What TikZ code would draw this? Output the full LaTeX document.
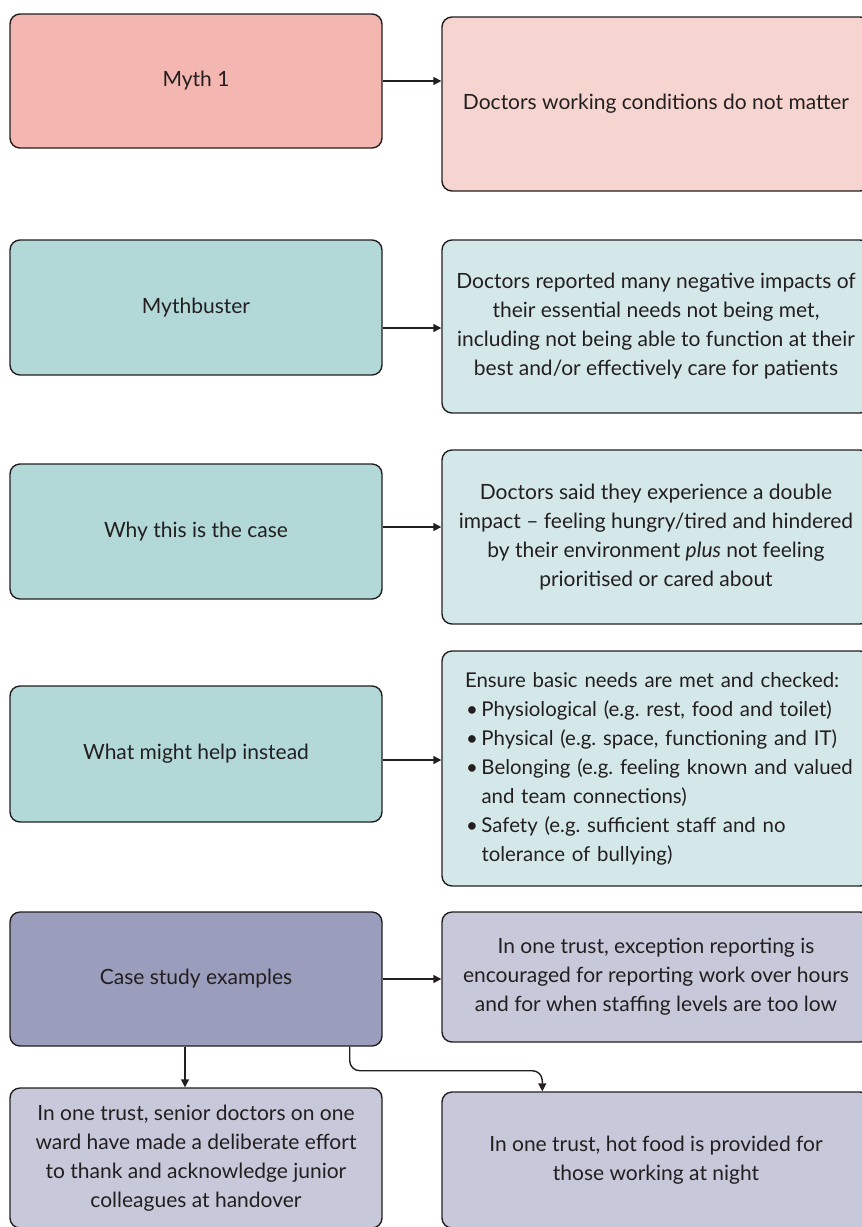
\documentclass[tikz,border=0pt]{standalone}
\usepackage{fontspec}
\setmainfont{Lato}
\usetikzlibrary{arrows.meta,calc}
\definecolor{txt}{HTML}{231F20}
\definecolor{edge}{HTML}{231F20}
\definecolor{redA}{HTML}{F4B6B1}
\definecolor{redB}{HTML}{F6D5D1}
\definecolor{tealA}{HTML}{B2D8D8}
\definecolor{tealB}{HTML}{D5E8E9}
\definecolor{purA}{HTML}{9A9DBB}
\definecolor{purB}{HTML}{C7C8DA}
\newcommand{\bul}{\makebox[15.5pt][l]{\textbullet}}
\tikzset{
  box/.style={draw=edge, line width=1.4pt, rounded corners=10pt, inner sep=0pt,
    font=\fontsize{21}{29}\selectfont\frenchspacing, text=txt, align=center},
  lbox/.style={box, minimum width=372pt},
  rbox/.style={box, minimum width=428pt},
  arr/.style={draw=edge, line width=1.4pt, -{Triangle[length=8pt,width=8pt]}},
}
\begin{document}
\begin{tikzpicture}[x=1pt,y=1pt]
\useasboundingbox (0,0) rectangle (862,-1227);
\clip (0,0) rectangle (862,-1227);
\fill[white] (0,0) rectangle (862,-1227);

\node[lbox, fill=redA, minimum height=134pt] (m1) at (196,-81) {Myth 1};
\node[rbox, fill=redB, minimum height=174pt] (r1) at (656,-104) {Doctors working conditions do not matter};

\node[lbox, fill=tealA, minimum height=135pt] (mb) at (196,-307.5) {Mythbuster};
\node[rbox, fill=tealB, minimum height=173pt] (r2) at (656,-326.5) {Doctors reported many negative impacts of\\their essential needs not being met,\\including not being able to function at their\\best and/or effectively care for patients};

\node[lbox, fill=tealA, minimum height=135pt] (wy) at (196,-531.5) {Why this is the case};
\node[rbox, fill=tealB, minimum height=174pt] (r3) at (656,-537) {Doctors said they experience a double\\impact -- feeling hungry/tired and hindered\\by their environment \textit{plus} not feeling\\prioritised or cared about};

\node[lbox, fill=tealA, minimum height=136pt] (wh) at (196,-754) {What might help instead};
\node[rbox, fill=tealB, minimum height=235pt, align=left, text width=428pt,
  font=\fontsize{20.4}{29}\selectfont\frenchspacing] (r4) at (656,-768.5) {\hspace*{23pt}Ensure basic needs are met and checked:\\
\hspace*{24pt}\bul Physiological (e.g. rest, food and toilet)\\
\hspace*{24pt}\bul Physical (e.g. space, functioning and IT)\\
\hspace*{24pt}\bul Belonging (e.g. feeling known and valued\\
\hspace*{24pt}\hphantom{\bul}and team connections)\\
\hspace*{24pt}\bul Safety (e.g. sufficient staff and no\\
\hspace*{24pt}\hphantom{\bul}tolerance of bullying)};

\node[lbox, fill=purA, minimum height=134pt] (cs) at (196,-979) {Case study examples};
\node[rbox, fill=purB, minimum height=130pt] (r5) at (656,-977) {In one trust, exception reporting is\\encouraged for reporting work over hours\\and for when staffing levels are too low};

\node[lbox, fill=purB, minimum height=140pt] (bl) at (196,-1158) {In one trust, senior doctors on one\\ward have made a deliberate effort\\to thank and acknowledge junior\\colleagues at handover};
\node[rbox, fill=purB, minimum height=136pt] (br) at (656,-1160) {In one trust, hot food is provided for\\those working at night};

\draw[arr] (m1.east) -- (m1.east -| r1.west);
\draw[arr] ([yshift=-20.5pt]mb.east) -- ([yshift=-20.5pt]mb.east -| r2.west);
\draw[arr] ([yshift=4.5pt]wy.east) -- ([yshift=4.5pt]wy.east -| r3.west);
\draw[arr] ([yshift=-6pt]wh.east) -- ([yshift=-6pt]wh.east -| r4.west);
\draw[arr] (cs.east) -- (cs.east -| r5.west);
\draw[arr] ([xshift=-11pt]cs.south) -- ([xshift=-11pt]cs.south |- bl.north);
\draw[arr, rounded corners=10pt] ([xshift=-33pt]cs.south east) -- ++(0,-24pt) -| ([xshift=101pt]br.north west);
\end{tikzpicture}
\end{document}
